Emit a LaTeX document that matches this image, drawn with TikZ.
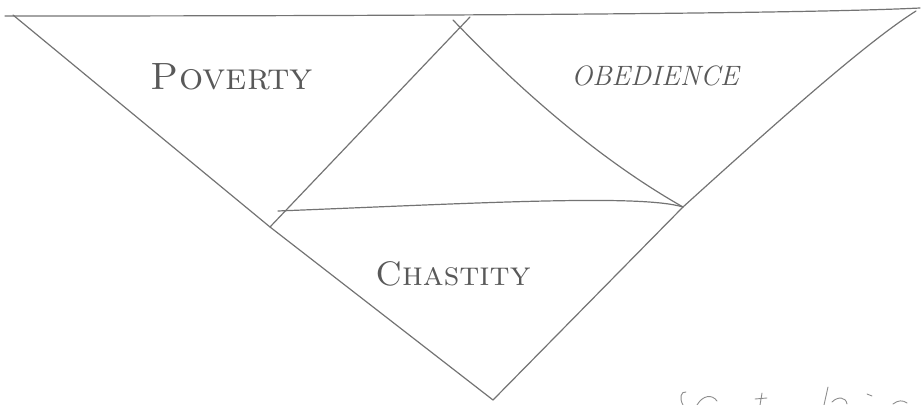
\documentclass[tikz,border=0pt]{standalone}
\usepackage{tikz}
\usetikzlibrary{positioning,calc}

\begin{document}
\begin{tikzpicture}[x=0.5pt,y=-0.5pt,
    pencil/.style={draw=black!55, line width=0.6pt, line cap=round, line join=round},
    scrawl/.style={draw=black!45, line width=0.45pt, line cap=round},
    vow/.style={text=black!65, inner sep=0pt, anchor=base}
]
\useasboundingbox (0,0) rectangle (921,405);

% corners of the outer and inner triangles
\coordinate (tl0) at (5,16);
\coordinate (tr0) at (920,8);
\coordinate (lt) at (13,15);
\coordinate (rt) at (916,11);
\coordinate (ap) at (493,400);
\coordinate (il) at (270,227);
\coordinate (ir) at (683,207);
\coordinate (ita) at (470,17);
\coordinate (itb) at (453,20);
\coordinate (bl) at (278,211);

% outer triangle
\draw[pencil] (tl0) .. controls (400,16) and (800,14) .. (tr0);
\draw[pencil] (lt) -- (il) -- (ap);
\draw[pencil] (ap) -- (ir) .. controls (790,110) and (870,40) .. (rt);

% inner triangle
\draw[pencil] (ita) -- (il);
\draw[pencil] (itb) .. controls (520,90) and (600,160) .. (ir);
\draw[pencil] (bl) .. controls (480,203) and (640,194) .. (ir);

% labels
\node[vow, font=\fontsize{19}{20}\selectfont] (pov) at (232,90) {\textsc{Poverty}};
\node[vow, font=\fontsize{14}{16}\selectfont\itshape] (obe) at (655,86) {OBEDIENCE};
\node[vow, font=\fontsize{17}{18}\selectfont] (cha) at (453,286) {\textsc{Chastity}};

% cut-off writing, bottom right
\draw[scrawl] (683,405) .. controls (679,398) and (681,391) .. (686,392);
\draw[scrawl] (697,405) .. controls (703,395) and (712,394) .. (717,401);
\draw[scrawl] (762,393) -- (760,405) (755,399) -- (767,398);
\draw[scrawl] (828,387) -- (824,405);
\draw[scrawl] (832,402) .. controls (838,396) and (846,397) .. (847,404);
\draw[scrawl] (867,394) -- (872,396);
\draw[scrawl] (893,404) .. controls (898,400) and (903,400) .. (907,403);
\end{tikzpicture}
\end{document}
